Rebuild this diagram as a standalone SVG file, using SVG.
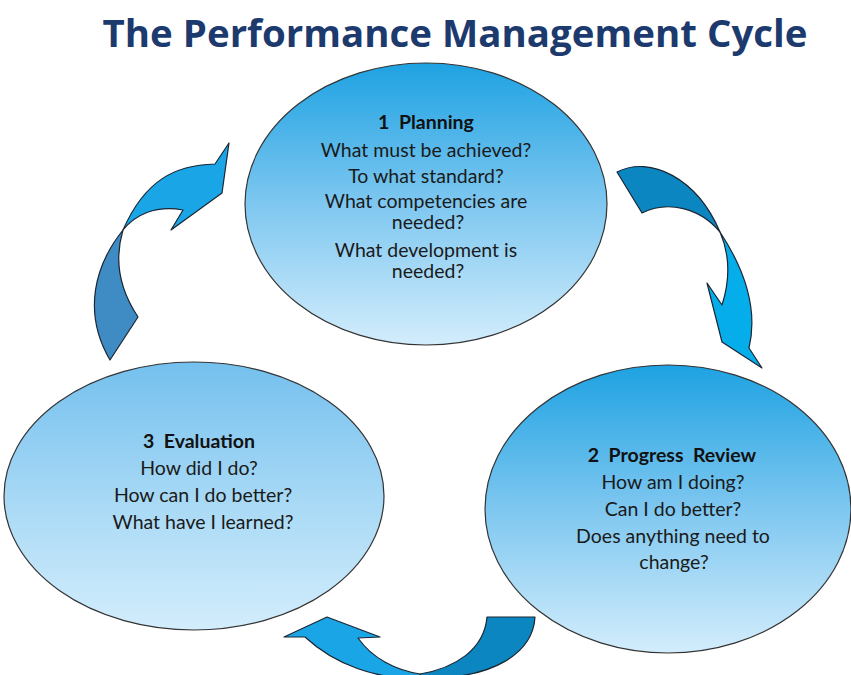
<svg xmlns="http://www.w3.org/2000/svg" width="851" height="675" viewBox="0 0 851 675">
<defs>
<linearGradient id="gA" x1="0" y1="0" x2="0" y2="1">
<stop offset="0" stop-color="#1ea2e2"/>
<stop offset="0.5" stop-color="#7ec7f0"/>
<stop offset="1" stop-color="#d3edfc"/>
</linearGradient>
<linearGradient id="gB" x1="0" y1="0" x2="0" y2="1">
<stop offset="0" stop-color="#74c0ee"/>
<stop offset="0.5" stop-color="#a6d8f5"/>
<stop offset="1" stop-color="#d3edfc"/>
</linearGradient>
<style>
.ell{stroke:#333;stroke-width:1.2}
.arr{stroke:#1b2633;stroke-width:1.2;stroke-linejoin:round}
.light{fill:#1aa6e6}
.dark{fill:#0b86c0}
.steel{fill:#3e8cc3}
.t{font-family:Lato,"Liberation Sans",sans-serif;font-size:19.5px;fill:#1a1a1a;text-anchor:middle}
.h{font-weight:bold;fill:#111}
.title{font-family:"Open Sans","Liberation Sans",sans-serif;font-weight:bold;font-size:38px;fill:#1c3a6e;text-anchor:middle}
</style>
</defs>
<rect width="851" height="675" fill="#fff"/>
<text class="title" x="455" y="47" textLength="705" lengthAdjust="spacingAndGlyphs">The Performance Management Cycle</text>

<g id="connectors">
<g id="arrow-eval-to-planning">
<path class="arr steel" d="M123 230 C95 265 82 312 110 360 L138 317 C120 290 114 260 123 230 Z"/>
<path class="arr light" d="M123 230 C145 180 175 165 215 164 L229 143 L222 193 L171 230 L183 210 C155 205 135 215 123 230 Z"/>
</g>
<g id="arrow-planning-to-review">
<path class="arr dark" d="M617 172 C650 155 697 178 720 232 C700 208 668 200 642 213 Z"/>
<path class="arr light" d="M720 232 C745 270 758 310 749 348 L762 368 L722 342 L707 283 L722 305 C730 280 730 255 720 232 Z" style="fill:#05aeea"/>
</g>
<g id="arrow-review-to-eval">
<path class="arr dark" d="M487 617 L535 617 C533 652 495 680 420 678 L420 674 C455 668 484 650 487 617 Z"/>
<path class="arr light" d="M420 678 C378 680 335 665 305 637 L284 637 L327 617 L380 637 L358 638 C372 658 395 670 420 674 Z"/>
</g>
</g>

<g id="node-planning">
<ellipse class="ell" cx="426" cy="204" rx="181" ry="141" fill="url(#gA)"/>
<text class="t h" x="426" y="129">1&#160; Planning</text>
<text class="t" x="426" y="157">What must be achieved?</text>
<text class="t" x="426" y="183">To what standard?</text>
<text class="t" x="426" y="208">What competencies are</text>
<text class="t" x="428" y="229">needed?</text>
<text class="t" x="426" y="257">What development is</text>
<text class="t" x="428" y="278">needed?</text>
</g>

<g id="node-evaluation">
<ellipse class="ell" cx="194" cy="496" rx="190" ry="134" fill="url(#gB)"/>
<text class="t h" x="199" y="448">3&#160; Evaluation</text>
<text class="t" x="199" y="475">How did I do?</text>
<text class="t" x="203" y="502">How can I do better?</text>
<text class="t" x="203" y="529">What have I learned?</text>
</g>

<g id="node-review">
<ellipse class="ell" cx="668" cy="509" rx="183" ry="144" fill="url(#gA)"/>
<text class="t h" x="672" y="462">2&#160; Progress&#160; Review</text>
<text class="t" x="673" y="489">How am I doing?</text>
<text class="t" x="673" y="516">Can I do better?</text>
<text class="t" x="673" y="543">Does anything need to</text>
<text class="t" x="674" y="569">change?</text>
</g>
</svg>
